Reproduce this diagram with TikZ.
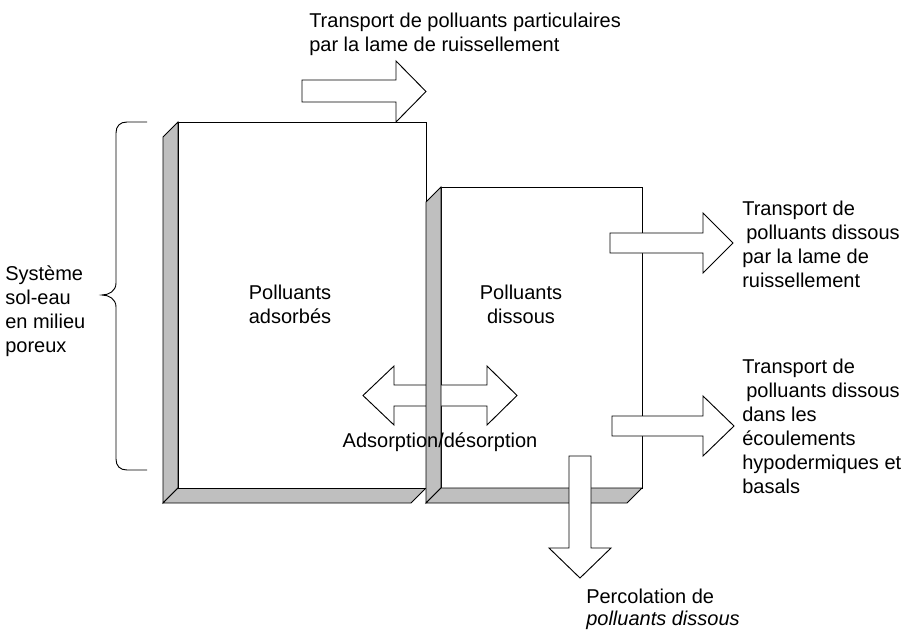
\documentclass[tikz,border=0pt]{standalone}
\usepackage{fontspec}
\setmainfont{Liberation Sans}
\begin{document}
\begin{tikzpicture}[x=0.75pt,y=-0.75pt,
  edge/.style={draw=black,line width=0.7pt,line join=miter},
  face/.style={edge,fill=white},
  side/.style={edge,fill=gray!50},
  blockarrow/.style={edge,fill=white},
  lbl/.style={font=\fontsize{15}{18}\selectfont,inner sep=0pt,align=left},
]
\useasboundingbox (0,0) rectangle (911,632);

% ---- box 1 : polluants adsorbes
\draw[side] (178,122) -- (163,137) -- (163,503) -- (178,488) -- cycle;
\draw[side] (178,488) -- (163,503) -- (411,503) -- (426,488) -- cycle;
\draw[face] (178,122) rectangle (426,488);

% ---- box 2 : polluants dissous (front face)
\draw[face] (441,187) rectangle (642,488);

% ---- adsorption / desorption double arrow
\draw[blockarrow] (363,395.5) -- (394,366) -- (394,385) -- (487,385) -- (487,366)
  -- (517,395.5) -- (487,425) -- (487,406) -- (394,406) -- (394,425) -- cycle;

% ---- box 2 sides
\draw[side] (441,187) -- (426,202) -- (426,503) -- (441,488) -- cycle;
\draw[side] (441,488) -- (426,503) -- (627,503) -- (642,488) -- cycle;

% ---- percolation arrow
\draw[blockarrow] (569,456) -- (591,456) -- (591,548) -- (611,548) -- (580,578)
  -- (549,548) -- (569,548) -- cycle;

% ---- right arrows
\draw[blockarrow] (610,233) -- (703,233) -- (703,213) -- (733,243) -- (703,273)
  -- (703,253) -- (610,253) -- cycle;
\draw[blockarrow] (612,416) -- (703,416) -- (703,396) -- (734,426) -- (703,456)
  -- (703,436) -- (612,436) -- cycle;

% ---- top arrow
\draw[blockarrow] (302,80) -- (396,80) -- (396,61) -- (426,91.5) -- (396,122)
  -- (396,102) -- (302,102) -- cycle;

% ---- brace
\draw[edge] (147,122) -- (127,122) .. controls (120,122) and (116,126) .. (116,133)
  -- (116,283) .. controls (116,291) and (109,295) .. (102,295)
  .. controls (109,295) and (116,299) .. (116,307)
  -- (116,459) .. controls (116,466) and (120,470) .. (127,470) -- (147,470);

% ---- texts
\node[lbl,anchor=north west] (toptxt) at (309,12.6)
  {Transport de polluants particulaires\\par la lame de ruissellement};
\node[lbl,anchor=north west] (systxt) at (5,265.6)
  {Système\\sol-eau\\en milieu\\poreux};
\node[lbl,align=center,anchor=north] (adstxt) at (290,284.6) {Polluants\\adsorbés};
\node[lbl,align=center,anchor=north] (distxt) at (521,284.6) {Polluants\\dissous};
\node[lbl,anchor=base] (adsdes) at (440,447) {Adsorption/désorption};
\node[lbl,anchor=north west] (rtxt1) at (742,200.6)
  {Transport de\\\hspace*{3pt}polluants dissous\\par la lame de\\ruissellement};
\node[lbl,anchor=north west] (rtxt2) at (742,358.6)
  {Transport de\\\hspace*{3pt}polluants dissous\\dans les\\écoulements\\hypodermiques et\\basals};
\node[lbl,anchor=north west,font=\fontsize{15}{16.5}\selectfont] (perctxt) at (586,589)
  {Percolation de\\\textit{polluants dissous}};
\end{tikzpicture}
\end{document}
